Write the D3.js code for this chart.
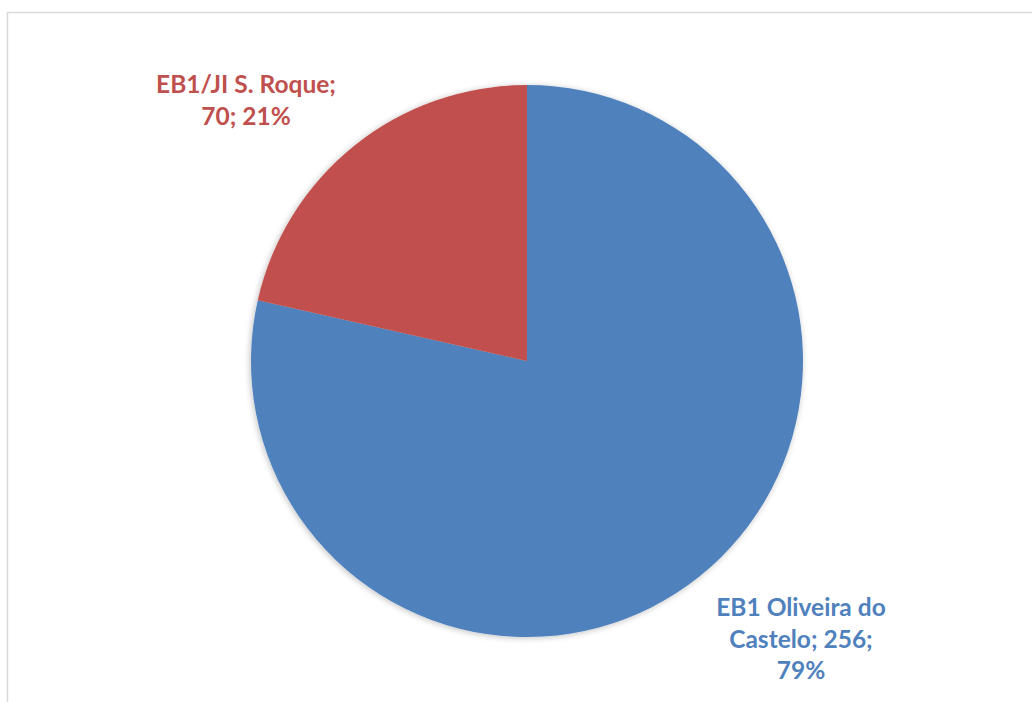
<!DOCTYPE html>
<html><head><meta charset="utf-8">
<script src="https://cdn.jsdelivr.net/npm/d3@7"></script>
<style>html,body{margin:0;padding:0;background:#fff;}svg{display:block;}</style>
</head><body>
<script>
const categories = ["EB1 Oliveira do Castelo", "EB1/JI S. Roque"];
const values = [256, 70];
const colors = ["#4F81BD", "#C0504D"];
const labelLines = [["EB1 Oliveira do", "Castelo; 256;", "79%"], ["EB1/JI S. Roque;", "70; 21%"]];

const W = 1032, H = 702;
const svg = d3.select("body").append("svg").attr("width", W).attr("height", H);

// chart border
svg.append("path").attr("d", `M7.5,${H} V12.5 H${W}`).attr("fill", "none")
  .attr("stroke", "#d9d9d9").attr("stroke-width", 1.5);

const cx = 527, cy = 361, r = 276;
const defs = svg.append("defs");
const f = defs.append("filter").attr("id", "sh").attr("x", "-10%").attr("y", "-10%").attr("width", "120%").attr("height", "120%");
f.append("feGaussianBlur").attr("in", "SourceAlpha").attr("stdDeviation", 3);
f.append("feOffset").attr("dx", -1).attr("dy", 1).attr("result", "b");
f.append("feComponentTransfer").append("feFuncA").attr("type", "linear").attr("slope", 0.25);
const m = f.append("feMerge"); m.append("feMergeNode"); m.append("feMergeNode").attr("in", "SourceGraphic");

const pie = d3.pie().sort(null).value(d => d)(values);
const arc = d3.arc().innerRadius(0).outerRadius(r);
const g = svg.append("g").attr("transform", `translate(${cx},${cy})`).attr("filter", "url(#sh)");
g.selectAll("path").data(pie).join("path").attr("d", arc).attr("fill", (d, i) => colors[i]);

const labelPos = [{x: 801, y: 616}, {x: 246, y: 93}];
const lh = 31.5;
labelLines.forEach((lines, i) => {
  const t = svg.append("text").attr("text-anchor", "middle")
    .attr("font-family", "Lato, 'Liberation Sans', sans-serif").attr("font-weight", "bold")
    .attr("font-size", 24.5).attr("fill", colors[i]);
  lines.forEach((s, j) => t.append("tspan").attr("x", labelPos[i].x).attr("y", labelPos[i].y + j * lh).text(s));
});
</script>
</body></html>
